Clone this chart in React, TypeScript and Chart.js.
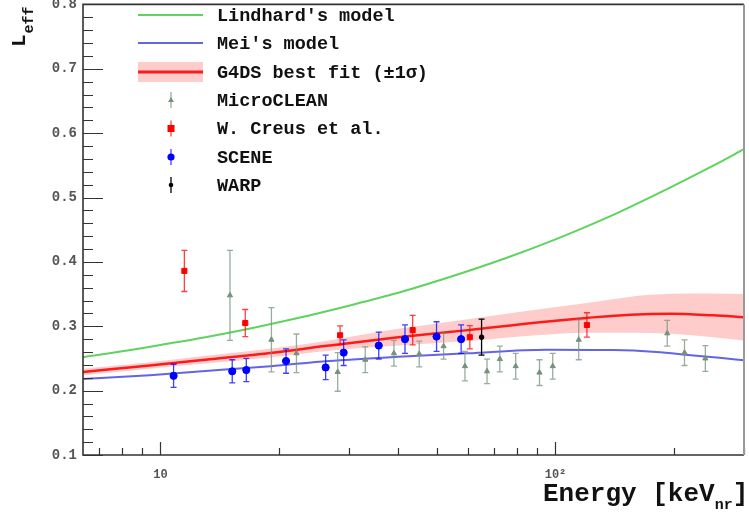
import React, { useEffect, useRef } from "react";
import { Chart, registerables } from "chart.js";

Chart.register(...registerables);

const FAM = "'Liberation Mono', 'DejaVu Sans Mono', monospace";

// ---- axis ranges & ticks ----
const X_MIN = 6.37;
const X_MAX = 300;
const Y_MIN = 0.1;
const Y_MAX = 0.8;

const xTickValues = [10, 100];
const xTickLabels = ["10", "10\u00b2"];
const xMinorTicks = [7, 8, 9, 20, 30, 40, 50, 60, 70, 80, 90, 200, 300];
const yTickValues = [0.1, 0.2, 0.3, 0.4, 0.5, 0.6, 0.7, 0.8];
const yTickLabels = ["0.1", "0.2", "0.3", "0.4", "0.5", "0.6", "0.7", "0.8"];
const yMinorTicks = [
  0.12, 0.14, 0.16, 0.18, 0.22, 0.24, 0.26, 0.28, 0.32, 0.34, 0.36, 0.38,
  0.42, 0.44, 0.46, 0.48, 0.52, 0.54, 0.56, 0.58, 0.62, 0.64, 0.66, 0.68,
  0.72, 0.74, 0.76, 0.78,
];

const legendLabels = [
  "Lindhard's model",
  "Mei's model",
  "G4DS best fit (\u00b11\u03c3)",
  "MicroCLEAN",
  "W. Creus et al.",
  "SCENE",
  "WARP",
];

// ---- model curves ----
const lindhardE = [6.37, 8, 10, 13, 17, 22, 30, 40, 55, 75, 100, 140, 190, 250, 300];
const lindhardL = [0.252, 0.261, 0.271, 0.283, 0.297, 0.312, 0.332, 0.352, 0.378, 0.406, 0.435, 0.473, 0.512, 0.549, 0.575];

const meiE = [6.37, 9.4, 13, 19, 26.7, 40, 60, 95, 140, 180, 220, 260, 300];
const meiL = [0.218, 0.224, 0.2305, 0.238, 0.246, 0.2525, 0.258, 0.2635, 0.263, 0.26, 0.255, 0.251, 0.247];

const fitE = [6.37, 9.4, 13, 20, 26.7, 40, 60, 90, 120, 155, 196, 250, 300];
const fitL = [0.229, 0.239, 0.248, 0.26, 0.27, 0.283, 0.294, 0.306, 0.313, 0.318, 0.3195, 0.317, 0.314];
const fitErr = [0.005, 0.005, 0.006, 0.007, 0.008, 0.013, 0.017, 0.02, 0.023, 0.028, 0.031, 0.034, 0.036];

// ---- measurements ----
const microE = [15.0, 19.1, 22.1, 28.1, 33.0, 39.0, 45.2, 52.1, 59.0, 67.1, 72.3, 79.3, 91.1, 98.4, 114.5, 191.8, 212.1, 239.5];
const microL = [0.348, 0.279, 0.258, 0.229, 0.248, 0.258, 0.257, 0.269, 0.238, 0.23, 0.249, 0.238, 0.228, 0.238, 0.279, 0.289, 0.259, 0.25];
const microErr = [0.07, 0.05, 0.03, 0.03, 0.02, 0.02, 0.02, 0.02, 0.023, 0.019, 0.02, 0.02, 0.02, 0.02, 0.031, 0.02, 0.02, 0.02];

const creusE = [11.5, 16.4, 28.5, 43.5, 60.7, 120.1];
const creusL = [0.386, 0.305, 0.286, 0.294, 0.283, 0.302];
const creusErr = [0.032, 0.021, 0.0145, 0.023, 0.018, 0.019];

const sceneE = [10.8, 15.2, 16.5, 20.8, 26.2, 29.1, 35.7, 41.6, 50.0, 57.7];
const sceneL = [0.223, 0.23, 0.232, 0.246, 0.236, 0.259, 0.27, 0.28, 0.284, 0.28];
const sceneErr = [0.018, 0.018, 0.018, 0.019, 0.019, 0.02, 0.021, 0.022, 0.023, 0.022];

const warpE = [65.0];
const warpL = [0.283];
const warpErr = [0.028];

// ---- colours ----
const GREEN = "#5fd35f";
const BLUE = "#6464e6";
const RED = "#ff1a1a";
const BAND = "rgba(255,0,0,0.2)";
const MICRO = "rgb(118,145,124)";
const MICRO_ERR = "rgba(118,145,124,0.75)";

const pts = (xs: number[], ys: number[]) => xs.map((x, i) => ({ x, y: ys[i] }));

const errorBarPlugin = {
  id: "errorBars",
  beforeDatasetDraw(chart: any, args: any) {
    const ds: any = chart.data.datasets[args.index];
    if (!ds.errs) return;
    const ctx = chart.ctx;
    const xs = chart.scales.x;
    const ys = chart.scales.y;
    ctx.save();
    ctx.strokeStyle = ds.errColor;
    ctx.lineWidth = 1.3;
    ds.data.forEach((p: any, i: number) => {
      const px = xs.getPixelForValue(p.x);
      const y1 = ys.getPixelForValue(p.y + ds.errs[i]);
      const y2 = ys.getPixelForValue(p.y - ds.errs[i]);
      ctx.beginPath();
      ctx.moveTo(px, y1);
      ctx.lineTo(px, y2);
      ctx.moveTo(px - 3, y1);
      ctx.lineTo(px + 3, y1);
      ctx.moveTo(px - 3, y2);
      ctx.lineTo(px + 3, y2);
      ctx.stroke();
    });
    ctx.restore();
  },
};

const framePlugin = {
  id: "frame",
  afterDatasetsDraw(chart: any) {
    const ctx = chart.ctx;
    const { left, right, top, bottom } = chart.chartArea;
    const xs = chart.scales.x;
    const ys = chart.scales.y;
    ctx.save();
    ctx.strokeStyle = "#333";
    ctx.lineWidth = 1.2;
    ctx.beginPath();
    yTickValues.forEach((v) => {
      const py = Math.round(ys.getPixelForValue(v)) + 0.5;
      ctx.moveTo(left, py);
      ctx.lineTo(left + 20, py);
    });
    yMinorTicks.forEach((v) => {
      const py = Math.round(ys.getPixelForValue(v)) + 0.5;
      ctx.moveTo(left, py);
      ctx.lineTo(left + 10, py);
    });
    xTickValues.forEach((v) => {
      const px = Math.round(xs.getPixelForValue(v)) + 0.5;
      ctx.moveTo(px, bottom);
      ctx.lineTo(px, bottom - 13);
    });
    xMinorTicks.forEach((v) => {
      const px = Math.round(xs.getPixelForValue(v)) + 0.5;
      ctx.moveTo(px, bottom);
      ctx.lineTo(px, bottom - 7);
    });
    ctx.stroke();
    // frame
    ctx.lineWidth = 1.6;
    ctx.strokeStyle = "#333";
    ctx.beginPath();
    ctx.moveTo(right, top);
    ctx.lineTo(left, top);
    ctx.lineTo(left, bottom);
    ctx.lineTo(right, bottom);
    ctx.stroke();
    ctx.strokeStyle = "#999";
    ctx.lineWidth = 2;
    ctx.beginPath();
    ctx.moveTo(right, top);
    ctx.lineTo(right, bottom);
    ctx.stroke();
    ctx.restore();
  },
  afterDraw(chart: any) {
    const ctx = chart.ctx;
    ctx.save();
    ctx.fillStyle = "#111";
    // x title
    ctx.textAlign = "left";
    ctx.textBaseline = "alphabetic";
    let x = 543;
    ctx.font = `bold 26px ${FAM}`;
    ctx.fillText("Energy [keV", x, 511);
    x += ctx.measureText("Energy [keV").width;
    ctx.font = `bold 15px ${FAM}`;
    ctx.fillText("nr", x, 519);
    x += ctx.measureText("nr").width;
    ctx.font = `bold 26px ${FAM}`;
    ctx.fillText("]", x, 511);
    // y title
    ctx.save();
    ctx.translate(25, 57);
    ctx.rotate(-Math.PI / 2);
    ctx.font = `bold 21px ${FAM}`;
    ctx.fillText("L", 0, 0);
    const wl = ctx.measureText("L").width;
    ctx.font = `bold 15px ${FAM}`;
    ctx.fillText("eff", wl + 1, 8);
    ctx.restore();

    // legend
    const rows = [25, 53, 82, 110, 138.5, 167, 195];
    const x0 = 138;
    const x1 = 203;
    const xm = 171;
    ctx.lineCap = "butt";
    // Lindhard
    ctx.strokeStyle = GREEN;
    ctx.lineWidth = 2;
    ctx.beginPath();
    ctx.moveTo(x0, rows[0]);
    ctx.lineTo(x1, rows[0]);
    ctx.stroke();
    // Mei
    ctx.strokeStyle = BLUE;
    ctx.beginPath();
    ctx.moveTo(x0, rows[1]);
    ctx.lineTo(x1, rows[1]);
    ctx.stroke();
    // G4DS
    ctx.fillStyle = BAND;
    ctx.fillRect(x0, rows[2] - 10, x1 - x0, 20);
    ctx.strokeStyle = RED;
    ctx.lineWidth = 3;
    ctx.beginPath();
    ctx.moveTo(x0, rows[2]);
    ctx.lineTo(x1, rows[2]);
    ctx.stroke();
    // markers
    const vbar = (y: number, col: string) => {
      ctx.strokeStyle = col;
      ctx.lineWidth = 1.3;
      ctx.beginPath();
      ctx.moveTo(xm, y - 8);
      ctx.lineTo(xm, y + 8);
      ctx.stroke();
    };
    vbar(rows[3], MICRO_ERR);
    ctx.fillStyle = MICRO;
    ctx.beginPath();
    ctx.moveTo(xm, rows[3] - 3);
    ctx.lineTo(xm + 3, rows[3] + 2);
    ctx.lineTo(xm - 3, rows[3] + 2);
    ctx.closePath();
    ctx.fill();
    vbar(rows[4], "rgba(255,0,0,0.75)");
    ctx.fillStyle = "#ff0000";
    ctx.fillRect(xm - 3.5, rows[4] - 3.5, 7, 7);
    vbar(rows[5], "rgba(0,0,255,0.75)");
    ctx.fillStyle = "#0000ff";
    ctx.beginPath();
    ctx.arc(xm, rows[5], 3.6, 0, Math.PI * 2);
    ctx.fill();
    vbar(rows[6], "#000");
    ctx.fillStyle = "#000";
    ctx.beginPath();
    ctx.arc(xm, rows[6], 2.3, 0, Math.PI * 2);
    ctx.fill();
    // legend text
    ctx.fillStyle = "#111";
    ctx.font = `bold 18.5px ${FAM}`;
    ctx.textBaseline = "middle";
    legendLabels.forEach((t, i) => ctx.fillText(t, 217, rows[i] + 1));
    ctx.restore();
  },
};

export default function App() {
  const ref = useRef<HTMLCanvasElement>(null);
  useEffect(() => {
    const canvas = ref.current;
    if (!canvas) return;
    const lineDs = (label: string, xs: number[], ys: number[], color: string, width: number, order: number) => ({
      label,
      data: pts(xs, ys),
      borderColor: color,
      backgroundColor: color,
      borderWidth: width,
      pointRadius: 0,
      fill: false,
      cubicInterpolationMode: "monotone",
      order,
    });
    const markDs = (label: string, xs: number[], ys: number[], errs: number[], style: string, r: number, color: string, errColor: string) => ({
      label,
      data: pts(xs, ys),
      errs,
      errColor,
      showLine: false,
      pointStyle: style,
      pointRadius: r,
      pointBackgroundColor: color,
      pointBorderColor: color,
      pointBorderWidth: 1,
      borderColor: color,
      backgroundColor: color,
      order: 0,
    });
    const chart = new Chart(canvas, {
      type: "line",
      data: {
        datasets: [
          {
            label: "band-hi",
            data: pts(fitE, fitL.map((v, i) => v + fitErr[i])),
            borderColor: "rgba(0,0,0,0)",
            borderWidth: 0,
            backgroundColor: BAND,
            pointRadius: 0,
            fill: "+1",
            cubicInterpolationMode: "monotone",
            order: 5,
          },
          {
            label: "band-lo",
            data: pts(fitE, fitL.map((v, i) => v - fitErr[i])),
            borderColor: "rgba(0,0,0,0)",
            borderWidth: 0,
            backgroundColor: BAND,
            pointRadius: 0,
            fill: false,
            cubicInterpolationMode: "monotone",
            order: 5,
          },
          lineDs(legendLabels[0], lindhardE, lindhardL, GREEN, 2, 3),
          lineDs(legendLabels[1], meiE, meiL, BLUE, 2, 3),
          lineDs(legendLabels[2], fitE, fitL, RED, 2.5, 2),
          markDs(legendLabels[3], microE, microL, microErr, "triangle", 3, MICRO, MICRO_ERR),
          markDs(legendLabels[4], creusE, creusL, creusErr, "rect", 3.6, "#ff0000", "rgba(255,0,0,0.75)"),
          markDs(legendLabels[5], sceneE, sceneL, sceneErr, "circle", 3.6, "#0000ff", "rgba(0,0,255,0.75)"),
          markDs(legendLabels[6], warpE, warpL, warpErr, "circle", 2.3, "#000000", "#000000"),
        ] as any,
      },
      options: {
        animation: false,
        responsive: false,
        devicePixelRatio: 1,
        events: [],
        layout: { padding: { left: 0, right: 2, top: 13, bottom: 0 } },
        plugins: { legend: { display: false }, tooltip: { enabled: false } },
        scales: {
          x: {
            type: "logarithmic",
            min: X_MIN,
            max: X_MAX,
            grid: { display: false, drawTicks: false },
            border: { display: false },
            afterBuildTicks: (s: any) => {
              s.ticks = xTickValues.map((v) => ({ value: v }));
            },
            afterFit: (s: any) => {
              s.height = 60;
            },
            ticks: {
              autoSkip: false,
              maxRotation: 0,
              padding: 13,
              color: "#555",
              font: { family: FAM, size: 12, weight: "bold" },
              callback: (v: any) => {
                const i = xTickValues.indexOf(Number(v));
                return i >= 0 ? xTickLabels[i] : "";
              },
            },
          },
          y: {
            type: "linear",
            min: Y_MIN,
            max: Y_MAX,
            grid: { display: false, drawTicks: false },
            border: { display: false },
            afterBuildTicks: (s: any) => {
              s.ticks = yTickValues.map((v) => ({ value: v }));
            },
            afterFit: (s: any) => {
              s.width = 83;
            },
            ticks: {
              padding: 6,
              color: "#555",
              font: { family: FAM, size: 14, weight: "bold" },
              callback: (v: any) => {
                const i = yTickValues.findIndex((t) => Math.abs(t - Number(v)) < 1e-9);
                return i >= 0 ? yTickLabels[i] : "";
              },
            },
          },
        },
      } as any,
      plugins: [errorBarPlugin, framePlugin],
    });
    return () => chart.destroy();
  }, []);
  return (
    <div style={{ position: "fixed", left: 0, top: -10, width: 749, height: 525 }}>
      <canvas ref={ref} width={749} height={525} style={{ width: 749, height: 525, display: "block" }} />
    </div>
  );
}
